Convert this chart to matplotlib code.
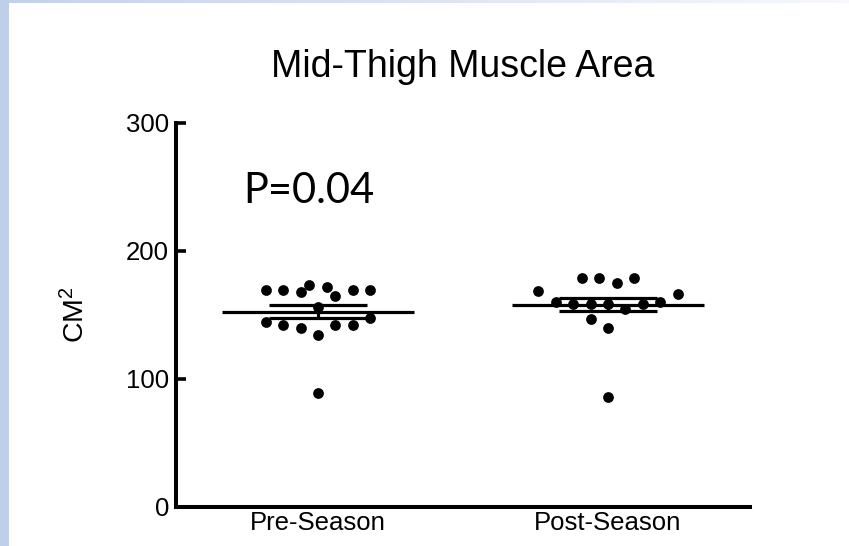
import numpy as np
import matplotlib
matplotlib.use("Agg")
import matplotlib.pyplot as plt
from matplotlib.patches import Rectangle
from matplotlib.colors import LinearSegmentedColormap

# ---- data ----
categories = ["Pre-Season", "Post-Season"]
pre_values = [169.5, 169.5, 168.2, 173.4, 172.1, 164.8, 169.5, 169.5,
              156.5,
              144.8, 142.2, 139.6, 134.4, 142.2, 142.2, 147.9,
              89.3]
pre_jitter = [-3, -2, -1, -0.5, 0.5, 1, 2, 3,
              0,
              -3, -2, -1, 0, 1, 2, 3,
              0]
post_values = [169.0, 178.6, 178.6, 175.2, 178.6, 166.4,
               160.4, 158.3, 158.3, 158.3, 154.4, 158.3, 160.4,
               146.9, 140.1,
               86.2]
post_jitter = [-4, -1.5, -0.5, 0.5, 1.5, 4,
               -3, -2, -1, 0, 1, 2, 3,
               -1, 0,
               0]
means = [152.6, 158.0]
sems = [5.1, 5.0]
yticks = [0, 100, 200, 300]
title = "Mid-Thigh Muscle Area"
ylabel = "CM$^2$"
annotation = "P=0.04"

plt.rcParams["mathtext.fontset"] = "custom"
plt.rcParams["mathtext.rm"] = "Liberation Sans"
plt.rcParams["mathtext.it"] = "Liberation Sans"
plt.rcParams["font.family"] = ["Liberation Sans", "DejaVu Sans"]

W, H = 849, 546
fig = plt.figure(figsize=(W / 100, H / 100), dpi=100)
fig.patch.set_facecolor("white")

# decorative slide border
fig.add_artist(Rectangle((0, 0), 9 / W, 1, transform=fig.transFigure,
                         facecolor="#bfcfea", edgecolor="none", zorder=0))
gax = fig.add_axes([9 / W, 1 - 3 / H, 1 - 9 / W, 3 / H])
grad = np.linspace(0, 1, 256)[None, :]
cmap = LinearSegmentedColormap.from_list("g", ["#c3d2ec", "#f6f8fc"])
gax.imshow(grad, aspect="auto", cmap=cmap)
gax.axis("off")

ax = fig.add_axes([176 / W, 1 - 507 / H, (750 - 176) / W, (507 - 123) / H])
ax.set_xlim(-0.49, 1.49)
ax.set_ylim(0, 300)

step = 0.06
groups = [(pre_values, pre_jitter), (post_values, post_jitter)]
for i, (vals, jit) in enumerate(groups):
    xs = [i + j * step for j in jit]
    ax.scatter(xs, vals, s=60, color="black", zorder=3, linewidths=0)
    ax.plot([i - 0.332, i + 0.332], [means[i], means[i]], color="black",
            lw=2.3, solid_capstyle="butt", zorder=2)
    ax.errorbar([i], [means[i]], yerr=[sems[i]], fmt="none", ecolor="black",
                elinewidth=2.3, capsize=0, zorder=2)
    for s in (-1, 1):
        ax.plot([i - 0.17, i + 0.17], [means[i] + s * sems[i]] * 2,
                color="black", lw=2.3, solid_capstyle="butt", zorder=2)

for side in ("top", "right"):
    ax.spines[side].set_visible(False)
for side in ("left", "bottom"):
    ax.spines[side].set_linewidth(2.9)
    ax.spines[side].set_capstyle("projecting")

ax.set_yticks(yticks)
ax.set_yticklabels([str(t) for t in yticks])
ax.tick_params(axis="y", direction="in", length=7.5, width=2.6, pad=5,
               labelsize=18.5)
ax.set_xticks([0, 1])
ax.set_xticklabels(categories)
ax.tick_params(axis="x", length=0, pad=3, labelsize=18.5)

ax.set_title(title, fontsize=27, pad=33)
ax.set_ylabel(ylabel, fontsize=20.5, labelpad=26)

ax.text(-0.258, 247, annotation, fontsize=30, family=["Lato", "DejaVu Sans"],
        ha="left", va="center")

fig.savefig("out.png", dpi=100, facecolor="white")
